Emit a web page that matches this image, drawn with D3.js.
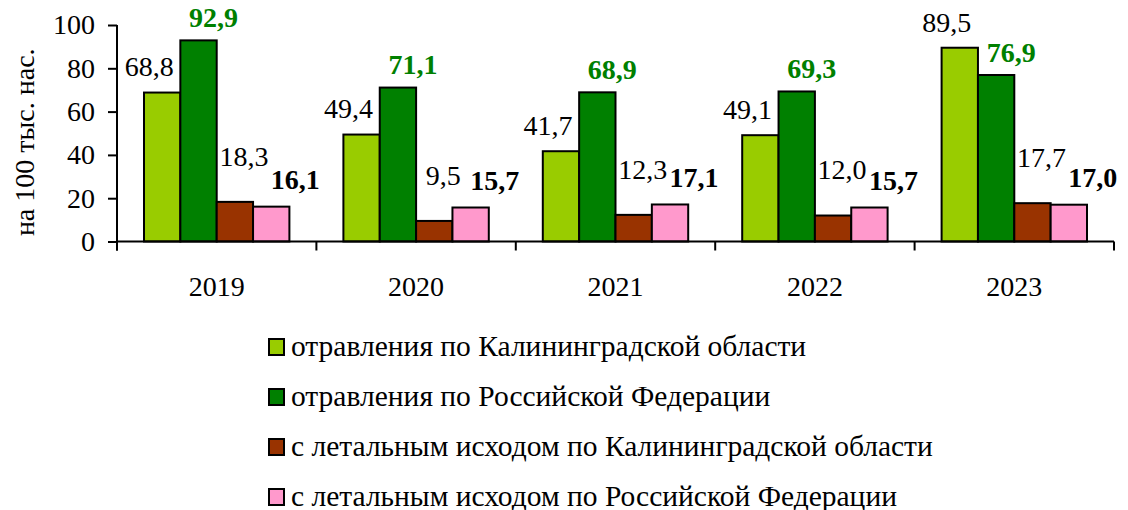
<!DOCTYPE html>
<html><head><meta charset="utf-8">
<script src="https://cdn.jsdelivr.net/npm/d3@7"></script>
</head>
<body style="margin:0"><svg id="c" width="1128" height="510"></svg>
<script>
const years = ["2019","2020","2021","2022","2023"];
const seriesNames = [
  "отравления по Калининградской области",
  "отравления по Российской Федерации",
  "с летальным исходом по Калининградской области",
  "с летальным исходом по Российской Федерации"
];
const poisonKld = [68.8, 49.4, 41.7, 49.1, 89.5];
const poisonRF  = [92.9, 71.1, 68.9, 69.3, 76.9];
const fatalKld  = [18.3, 9.5, 12.3, 12.0, 17.7];
const fatalRF   = [16.1, 15.7, 17.1, 15.7, 17.0];
const yTicks = [0, 20, 40, 60, 80, 100];
const yTitle = "на 100 тыс. нас.";

(function(){
const seriesValues = [poisonKld, poisonRF, fatalKld, fatalRF];
const colors = ["#99CC00", "#008000", "#993300", "#FF99CC"];
const labelColors = ["#000", "#008000", "#000", "#000"];
const labelWeights = ["normal", "bold", "normal", "bold"];
const labelDx = [-13, 15, 9, 24];
const labelDy = [-26, -23, -46, -27];
const FF = '"Liberation Serif", "Times New Roman", Tinos';

const svg = d3.select("#c");
const L = 117, R = 1114, T = 25, B = 241.5;
const FS = 28;

const x = d3.scaleBand().domain(years).range([L, R]);
const xs = d3.scaleBand().domain(d3.range(4)).range([27, x.bandwidth() - 27]);
const y = d3.scaleLinear().domain([0, 100]).range([B, T]);

// bars
const g = svg.append("g");
years.forEach((yr, i) => {
  seriesValues.forEach((vals, s) => {
    const v = vals[i];
    g.append("rect")
      .attr("x", x(yr) + xs(s))
      .attr("y", y(v))
      .attr("width", xs.bandwidth())
      .attr("height", y(0) - y(v))
      .attr("fill", colors[s])
      .attr("stroke", "#000")
      .attr("stroke-width", 2);
  });
});

// y axis
const yAxis = d3.axisLeft(y).tickValues(yTicks).tickSize(9).tickPadding(13).tickFormat(d3.format("d"));
const ya = svg.append("g").attr("transform", `translate(${L},0)`).call(yAxis);
ya.attr("font-family", null).attr("font-size", null);
ya.select(".domain").remove();
ya.append("line").attr("x1", 0).attr("x2", 0).attr("y1", T).attr("y2", B + 9)
  .attr("stroke", "#000").attr("stroke-width", 2);
ya.selectAll(".tick line").attr("stroke", "#000").attr("stroke-width", 2);
ya.selectAll(".tick text").style("font-family", FF).style("font-size", FS + "px").attr("fill", "#000");

// x axis
const xAxis = d3.axisBottom(x).tickSize(0).tickPadding(35);
const xa = svg.append("g").attr("transform", `translate(0,${B})`).call(xAxis);
xa.attr("font-family", null).attr("font-size", null);
xa.select(".domain").remove();
xa.append("line").attr("x1", L).attr("x2", R).attr("y1", 0).attr("y2", 0)
  .attr("stroke", "#000").attr("stroke-width", 2);
const bounds = years.map(d => x(d)).concat([R]);
xa.selectAll(".bt").data(bounds).enter().append("line")
  .attr("x1", d => d).attr("x2", d => d).attr("y1", 0).attr("y2", 9)
  .attr("stroke", "#000").attr("stroke-width", 2);
xa.selectAll(".tick text").style("font-family", FF).style("font-size", FS + "px").attr("fill", "#000");

// y title
svg.append("text")
  .attr("transform", `translate(34,${(T + B) / 2 + 9}) rotate(-90)`)
  .attr("text-anchor", "middle")
  .style("font-family", FF)
  .style("font-size", "28px")
  .text(yTitle);

// data labels
years.forEach((yr, i) => {
  seriesValues.forEach((vals, s) => {
    const v = vals[i];
    svg.append("text")
      .attr("x", x(yr) + xs(s) + xs.bandwidth() / 2 + labelDx[s])
      .attr("y", y(v) + labelDy[s])
      .attr("dy", "0.35em")
      .attr("text-anchor", "middle")
      .attr("fill", labelColors[s])
      .style("font-family", FF)
      .style("font-size", FS + "px")
      .style("font-weight", labelWeights[s])
      .text(d3.format(".1f")(v).replace(".", ","));
  });
});

// legend
const lg = svg.append("g").attr("transform", "translate(269,347)");
seriesNames.forEach((name, s) => {
  const row = lg.append("g").attr("transform", `translate(0,${s * 50})`);
  row.append("rect").attr("x", 0).attr("y", -8).attr("width", 15).attr("height", 16)
    .attr("fill", colors[s]).attr("stroke", "#000").attr("stroke-width", 2);
  row.append("text").attr("x", 22).attr("y", 9)
    .style("font-family", FF)
    .style("font-size", "29.5px")
    .text(name);
});
})();
</script></body></html>
